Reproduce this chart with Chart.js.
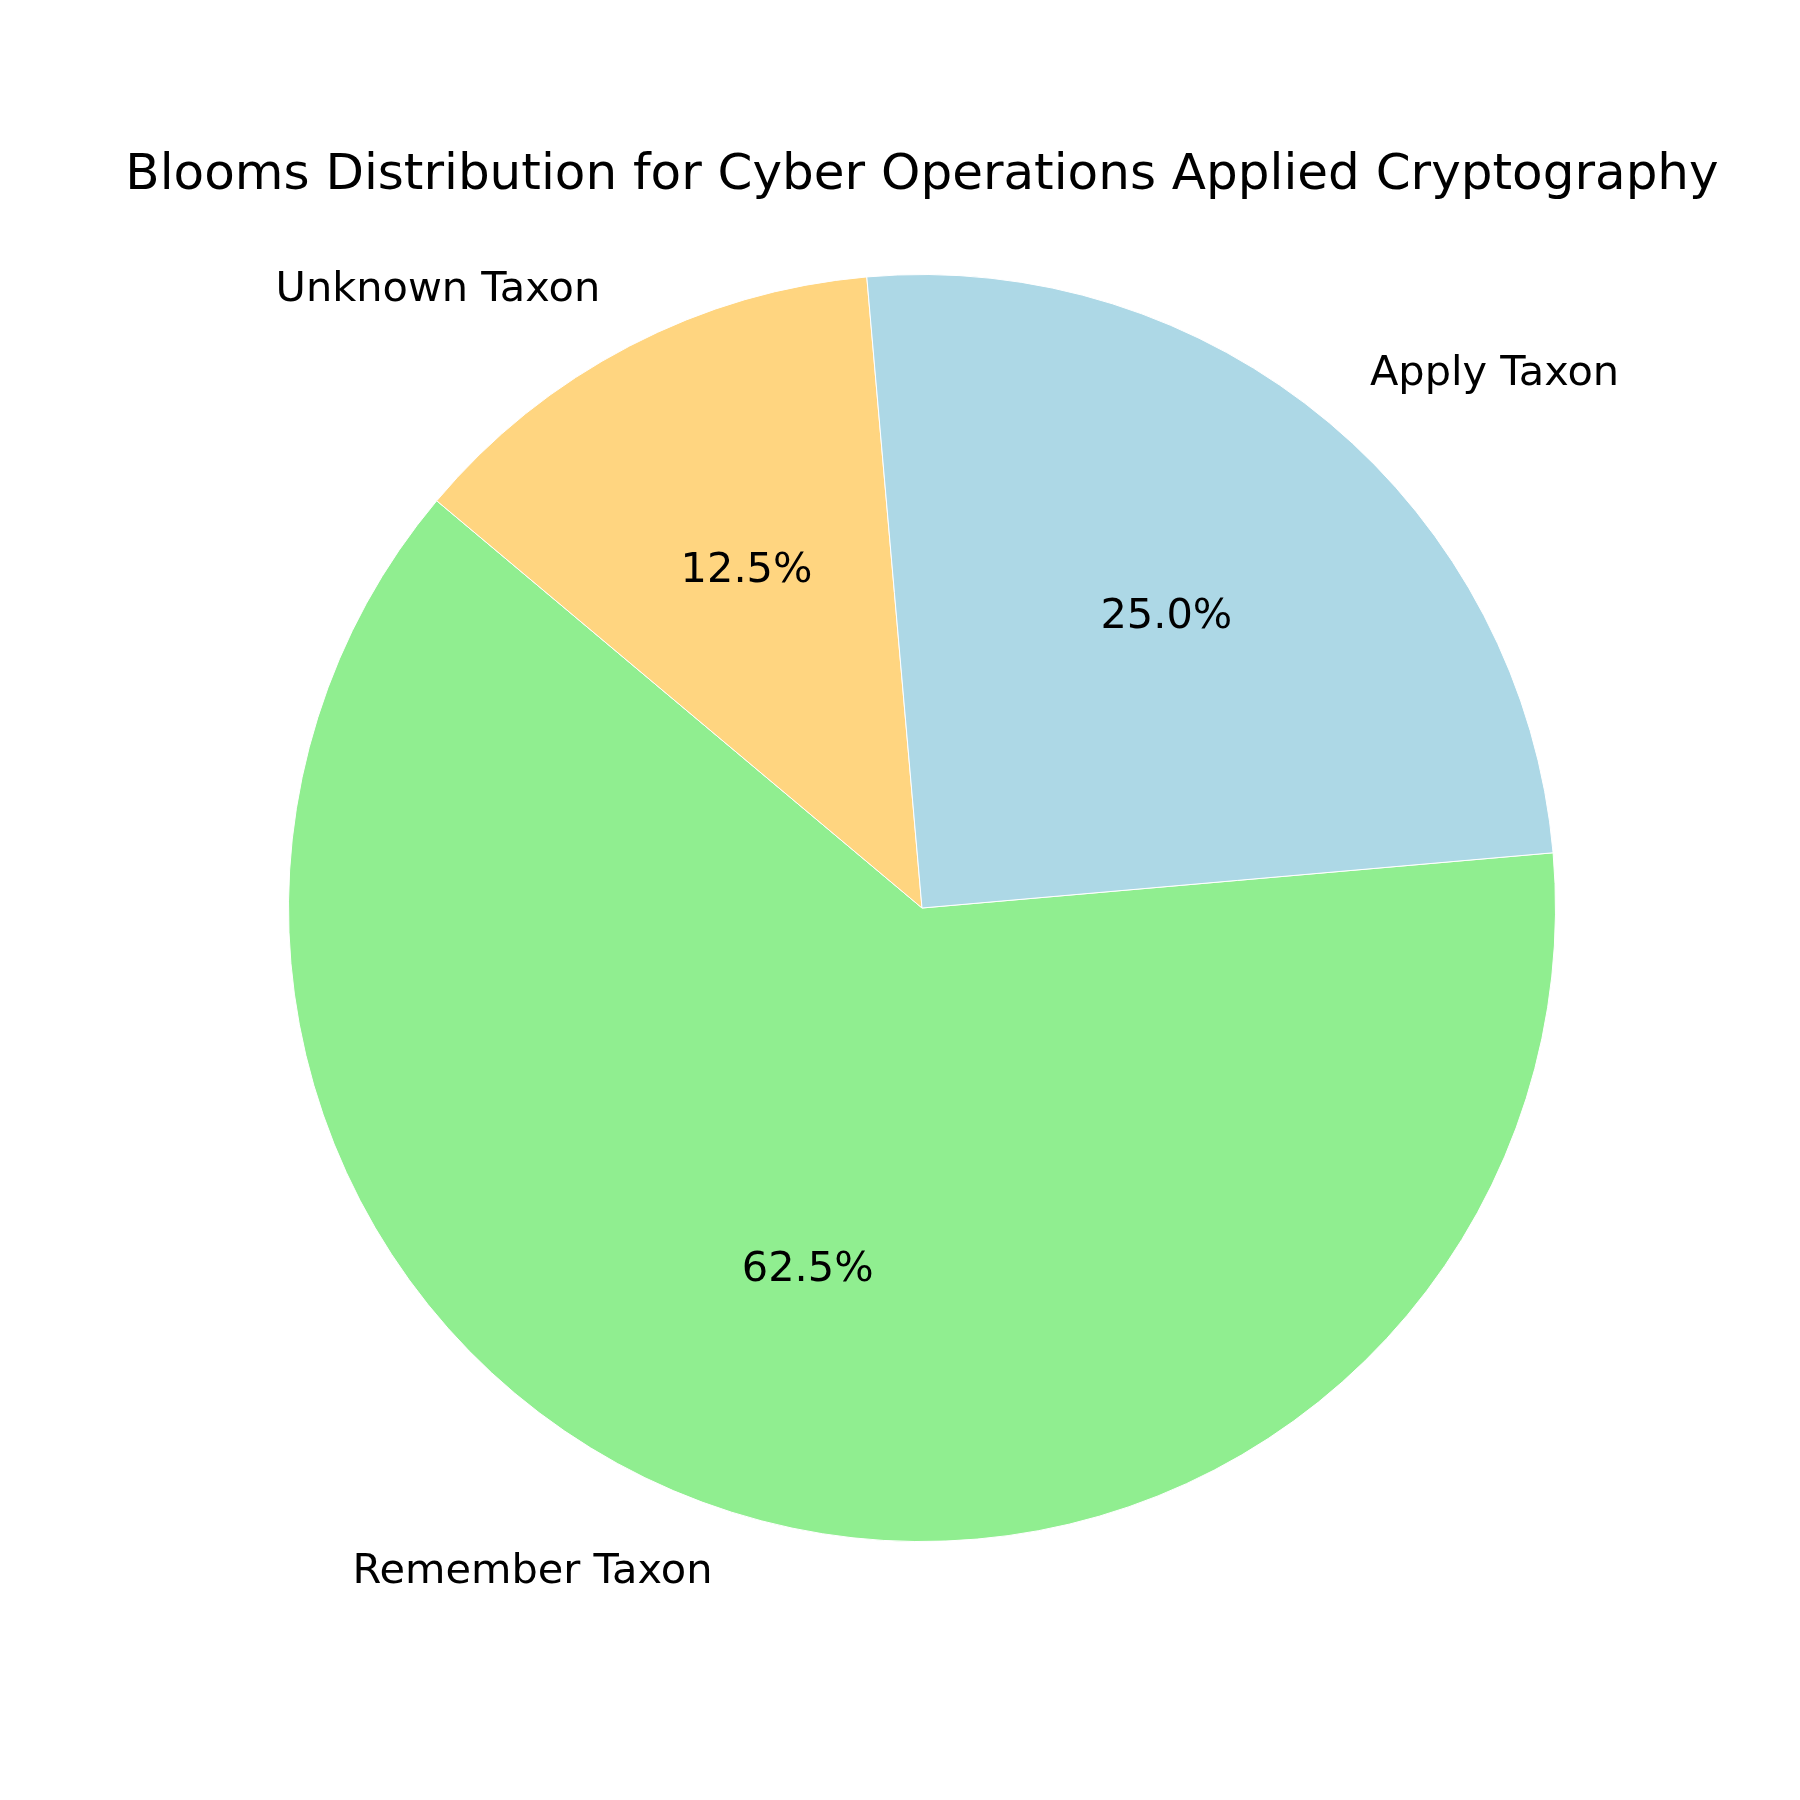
<!DOCTYPE html>
<html>
<head>
<meta charset="utf-8">
<script src="https://cdn.jsdelivr.net/npm/chart.js@4.4.0/dist/chart.umd.min.js"></script>
<style>
  html, body { margin: 0; padding: 0; background: #fff; }
  #wrap { width: 1800px; height: 1800px; }
</style>
</head>
<body>
<div id="wrap"><canvas id="bloomsChart" width="1800" height="1800"></canvas></div>
<script>
// Data (clockwise order in Chart.js = reverse of matplotlib's counterclockwise order)
const labels = ['Remember Taxon', 'Unknown Taxon', 'Apply Taxon'];
const counts = [62.5, 12.5, 25.0];
const colors = ['#90EE90', '#FFD580', '#ADD8E6'];
const titleText = 'Blooms Distribution for Cyber Operations Applied Cryptography';

const FONT = '"DejaVu Sans", sans-serif';

// draws title, outer labels (1.1 r) and percentages (0.6 r), like matplotlib
const pieText = {
    id: 'pieText',
    afterDraw(chart) {
        const ctx = chart.ctx;
        const meta = chart.getDatasetMeta(0);
        const total = counts.reduce((a, b) => a + b, 0);
        ctx.save();
        ctx.fillStyle = '#000';

        ctx.font = '50px ' + FONT;
        ctx.textAlign = 'center';
        ctx.textBaseline = 'middle';
        ctx.fillText(titleText, 922, 176);

        meta.data.forEach((arc, i) => {
            const p = arc.getProps(['x', 'y', 'startAngle', 'endAngle', 'outerRadius'], true);
            const mid = (p.startAngle + p.endAngle) / 2;
            const cx = Math.cos(mid), cy = Math.sin(mid);

            ctx.font = '41.5px ' + FONT;
            ctx.textBaseline = 'middle';
            const lx = p.x + cx * p.outerRadius * 1.1;
            const ly = p.y + cy * p.outerRadius * 1.1;
            ctx.textAlign = cx > 0 ? 'left' : 'right';
            ctx.fillText(labels[i], lx, ly);

            const px = p.x + cx * p.outerRadius * 0.6;
            const py = p.y + cy * p.outerRadius * 0.6;
            ctx.textAlign = 'center';
            ctx.fillText((counts[i] / total * 100).toFixed(1) + '%', px, py);
        });
        ctx.restore();
    }
};

new Chart(document.getElementById('bloomsChart'), {
    type: 'pie',
    data: {
        labels: labels,
        datasets: [{
            data: counts,
            backgroundColor: colors,
            borderColor: '#ffffff',
            borderWidth: 1
        }]
    },
    options: {
        responsive: false,
        animation: false,
        rotation: 85,
        layout: { padding: { left: 288, right: 244, top: 274, bottom: 258 } },
        plugins: {
            legend: { display: false },
            tooltip: { enabled: false },
            title: { display: false }
        }
    },
    plugins: [pieText]
});
</script>
</body>
</html>
